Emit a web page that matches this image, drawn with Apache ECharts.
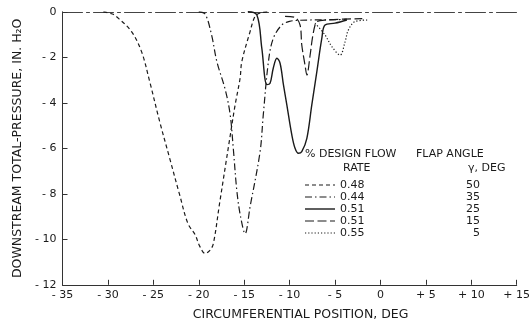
<!DOCTYPE html>
<html>
<head>
<meta charset="utf-8">
<script src="https://cdn.jsdelivr.net/npm/echarts@6/dist/echarts.min.js"></script>
<style>
  html, body { margin: 0; padding: 0; background: #fff; }
  #chart { width: 531px; height: 322px; }
</style>
</head>
<body>
<div id="chart"></div>
<script>
// Wake profiles behind the flap: circumferential position (deg) vs pressure (in. H2O)
const xTicks = [-35, -30, -25, -20, -15, -10, -5, 0, 5, 10, 15];
const yTicks = [0, -2, -4, -6, -8, -10, -12];

const flowRates = ['0.48', '0.44', '0.51', '0.51', '0.55'];
const flapAngles = ['50', '35', '25', '15', '5'];

const flap50 = [
  [-30.5, 0], [-29.5, -0.1], [-28.8, -0.3], [-27.4, -0.87], [-26.3, -1.75],
  [-25.4, -3.07], [-24.3, -4.83], [-23.2, -6.44], [-22.1, -8.05], [-21.2, -9.3],
  [-20.4, -9.8], [-19.9, -10.3], [-19.3, -10.62], [-18.8, -10.5], [-18.4, -10.2],
  [-17.7, -8.4], [-16.6, -5.6], [-16.0, -4.1], [-15.45, -2.92], [-15.26, -2.19],
  [-14.35, -0.87], [-13.8, -0.2], [-13.2, -0.05], [-12.3, 0]
];
const flap35 = [
  [-20, 0], [-19.3, -0.1], [-18.6, -1.0], [-18.0, -2.2], [-17.1, -3.4],
  [-16.55, -4.5], [-16.2, -6.0], [-15.8, -7.9], [-15.4, -9.0], [-14.9, -9.75],
  [-14.35, -8.57], [-13.25, -6.15], [-12.9, -4.54], [-12.33, -2.19], [-11.8, -1.17],
  [-10.86, -0.58], [-10.0, -0.42], [-9.2, -0.38], [-7.7, -0.36], [-5.0, -0.35],
  [-3.7, -0.32]
];
const flap25 = [
  [-14.6, 0], [-13.6, -0.14], [-13.06, -1.6], [-12.5, -3.2], [-12.15, -3.14],
  [-11.8, -2.48], [-11.4, -2.04], [-11.05, -2.26], [-10.68, -3.2], [-10.3, -4.1],
  [-9.76, -5.4], [-9.4, -6.0], [-9.03, -6.22], [-8.66, -6.15], [-8.1, -5.56],
  [-7.56, -4.1], [-7.0, -2.63], [-6.45, -1.16], [-6.1, -0.58], [-5.0, -0.5],
  [-3.7, -0.36]
];
const flap15 = [
  [-10.5, -0.2], [-9.4, -0.25], [-8.85, -0.58], [-8.66, -1.46], [-8.3, -2.35],
  [-8.1, -2.78], [-7.74, -1.9], [-7.49, -1.16], [-7.2, -0.58], [-7.0, -0.43],
  [-6.0, -0.36], [-4.0, -0.32], [-2.0, -0.3]
];
const flap5 = [
  [-7.2, -0.5], [-6.1, -1.02], [-5.35, -1.53], [-4.44, -1.9], [-3.9, -1.33],
  [-3.53, -0.8], [-2.8, -0.43], [-1.33, -0.36]
];

const profiles = [flap50, flap35, flap25, flap15, flap5];
// dash patterns for each flap setting
const dashes = [[4, 3], [7, 3, 1.5, 3], 'solid', [9, 3.5], [1.2, 2]];

const FONT = 'DejaVu Sans';
const INK = '#1a1a1a';

function tickLabel(v) {
  if (v === 0) return '0';
  return (v < 0 ? '- ' : '+ ') + Math.abs(v);
}

const chart = echarts.init(document.getElementById('chart'), null, { renderer: 'canvas' });

const series = profiles.map((d, i) => ({
  type: 'line',
  name: flowRates[i] + ' / ' + flapAngles[i],
  data: d,
  showSymbol: false,
  smooth: 0.35,
  lineStyle: { color: INK, width: i === 2 ? 1.4 : 1.2, type: dashes[i] },
  z: 3
}));

// key block, built from the same arrays
const keyLeft = 305, keyTop = 183, rowGap = 12;
const keyItems = [
  { type: 'text', left: 305, top: 149, style: { text: '% DESIGN FLOW', font: '11px ' + FONT, fill: INK } },
  { type: 'text', left: 343, top: 163, style: { text: 'RATE', font: '11px ' + FONT, fill: INK } },
  { type: 'text', left: 416, top: 149, style: { text: 'FLAP ANGLE', font: '11px ' + FONT, fill: INK } },
  { type: 'text', left: 468, top: 163, style: { text: 'γ, DEG', font: '11px ' + FONT, fill: INK } }
];
flowRates.forEach((r, i) => {
  const y = keyTop + i * rowGap;
  keyItems.push({
    type: 'line',
    shape: { x1: keyLeft, y1: y + 2, x2: keyLeft + 30, y2: y + 2 },
    style: {
      stroke: INK, lineWidth: i === 2 ? 1.4 : 1.2,
      lineDash: dashes[i] === 'solid' ? null : dashes[i]
    }
  });
  keyItems.push({
    type: 'text', x: 340, y: y + 2,
    style: { text: r, font: '11px ' + FONT, fill: INK, verticalAlign: 'middle', align: 'left' }
  });
  keyItems.push({
    type: 'text', x: 480, y: y + 2,
    style: { text: flapAngles[i], font: '11px ' + FONT, fill: INK, verticalAlign: 'middle', align: 'right' }
  });
});

chart.setOption({
  animation: false,
  backgroundColor: '#fff',
  grid: { left: 62.5, right: 14.3, top: 11.8, bottom: 37.2, containLabel: false, outerBoundsMode: 'none' },
  xAxis: [{
    type: 'value',
    min: -35, max: 15, interval: 5,
    position: 'bottom',
    axisLine: { show: true, onZero: false, lineStyle: { color: '#333', width: 1 } },
    axisTick: { show: true, inside: true, length: 5, lineStyle: { color: '#333' } },
    axisLabel: { formatter: tickLabel, color: INK, fontFamily: FONT, fontSize: 11, margin: 5 },
    splitLine: { show: false },
    name: 'CIRCUMFERENTIAL POSITION, DEG',
    nameLocation: 'middle',
    nameGap: 23,
    nameTextStyle: { color: INK, fontFamily: FONT, fontSize: 12.5, padding: [0, 0, 0, 22] }
  }, {
    type: 'value',
    min: -35, max: 15,
    position: 'top',
    axisLine: { show: true, onZero: false, lineStyle: { color: '#444', width: 1, type: [20, 4, 3, 4] } },
    axisTick: { show: false },
    axisLabel: { show: false },
    splitLine: { show: false }
  }],
  yAxis: {
    type: 'value',
    min: -12, max: 0, interval: 2,
    axisLine: { show: true, onZero: false, lineStyle: { color: '#333', width: 1 } },
    axisTick: { show: true, inside: true, length: 5, lineStyle: { color: '#333' } },
    axisLabel: { formatter: tickLabel, color: INK, fontFamily: FONT, fontSize: 11, margin: 6 },
    splitLine: { show: false },
    name: 'DOWNSTREAM TOTAL-PRESSURE, IN. H₂O',
    nameLocation: 'middle',
    nameRotate: 90,
    nameGap: 36,
    nameTextStyle: { color: INK, fontFamily: FONT, fontSize: 12.5 }
  },
  graphic: keyItems,
  series: series
});
</script>
</body>
</html>
